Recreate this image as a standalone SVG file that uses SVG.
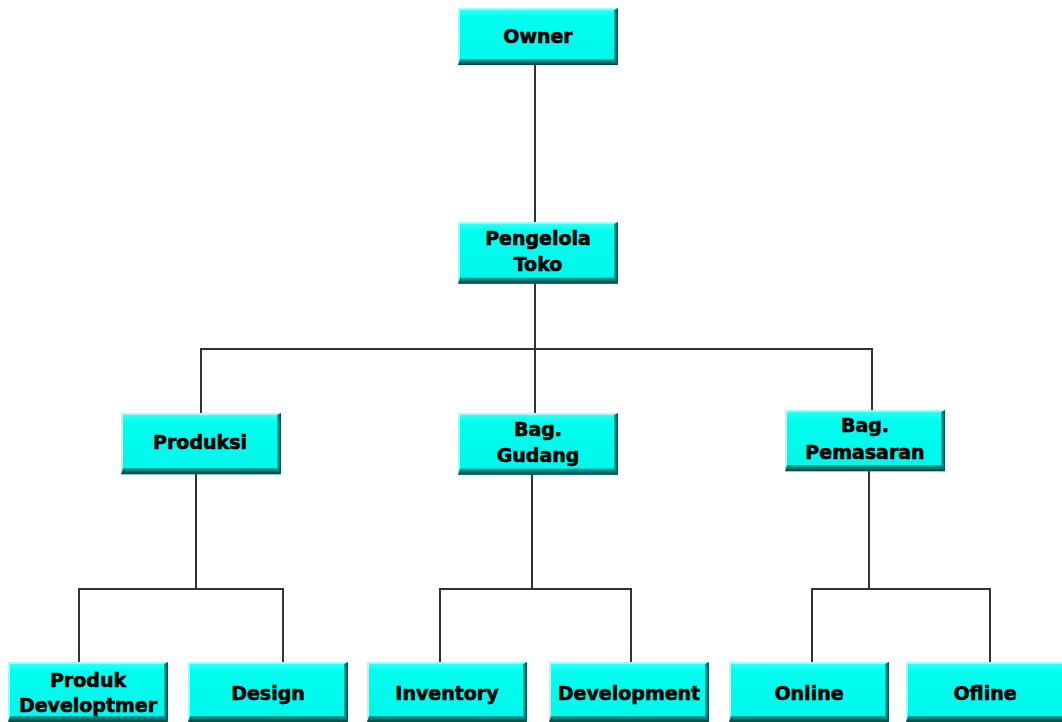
<svg xmlns="http://www.w3.org/2000/svg" xmlns:xlink="http://www.w3.org/1999/xlink" width="1062" height="722" viewBox="0 0 1062 722">
  <style>
    .lbl { font-family: "DejaVu Sans", "Liberation Sans", sans-serif; font-weight: bold; font-size: 19px; fill: #000; stroke: #000; stroke-width: 0.6; text-anchor: middle; }
    .wire { stroke: #333; stroke-width: 2; fill: none; stroke-linecap: square; }
  </style>
  <defs>
    <linearGradient id="face" x1="0" y1="0" x2="0" y2="1">
      <stop offset="0" stop-color="#40fff6"/>
      <stop offset="0.15" stop-color="#00fff0"/>
      <stop offset="1" stop-color="#00f6ea"/>
    </linearGradient>
    <linearGradient id="bot" x1="0" y1="0" x2="0" y2="1">
      <stop offset="0" stop-color="#00a8a0"/>
      <stop offset="1" stop-color="#003e3c"/>
    </linearGradient>
    <linearGradient id="side" x1="0" y1="0" x2="1" y2="0">
      <stop offset="0" stop-color="#00b0a8"/>
      <stop offset="1" stop-color="#004a48"/>
    </linearGradient>
    <!-- bevelled cyan block, 160 x 60 -->
    <g id="box">
      <rect width="160" height="60" fill="url(#face)"/>
      <rect width="160" height="2" fill="#9ffffb"/>
      <rect width="2" height="60" fill="#9ffffb"/>
      <polygon points="156,2 160,0 160,60 156,55" fill="url(#side)"/>
      <polygon points="2,54 156,54 160,60 0,60" fill="url(#bot)"/>
    </g>
  </defs>

  <rect width="1062" height="722" fill="#fff"/>

  <g id="connectors">
    <path class="wire" d="M535 65 V222"/>
    <path class="wire" d="M535 284 V413 M201 349 H872 M201 349 V413 M872 349 V410"/>
    <path class="wire" d="M196 474 V589 M79 589 H283 M79 589 V662 M283 589 V662"/>
    <path class="wire" d="M532 475 V589 M440 589 H631 M440 589 V662 M631 589 V662"/>
    <path class="wire" d="M869 471 V589 M812 589 H990 M812 589 V662 M990 589 V662"/>
  </g>

  <g id="owner">
    <use xlink:href="#box" transform="translate(458,8) scale(1,0.95)"/>
    <text class="lbl" x="538" y="43">Owner</text>
  </g>

  <g id="pengelola-toko">
    <use xlink:href="#box" transform="translate(458,222) scale(1,1.03)"/>
    <text class="lbl" x="538" y="245">Pengelola</text>
    <text class="lbl" x="538" y="271">Toko</text>
  </g>

  <g id="produksi">
    <use xlink:href="#box" transform="translate(121,413) scale(1,1.02)"/>
    <text class="lbl" x="200" y="449">Produksi</text>
  </g>

  <g id="bag-gudang">
    <use xlink:href="#box" transform="translate(458,413) scale(1,1.03)"/>
    <text class="lbl" x="538" y="436">Bag.</text>
    <text class="lbl" x="538" y="462">Gudang</text>
  </g>

  <g id="bag-pemasaran">
    <use xlink:href="#box" transform="translate(785,410) scale(1,1.02)"/>
    <text class="lbl" x="865" y="432">Bag.</text>
    <text class="lbl" x="865" y="459">Pemasaran</text>
  </g>

  <g id="produk-developtmer">
    <use xlink:href="#box" transform="translate(8,662)"/>
    <text class="lbl" x="88" y="687">Produk</text>
    <text class="lbl" x="88" y="712">Developtmer</text>
  </g>

  <g id="design">
    <use xlink:href="#box" transform="translate(188,662)"/>
    <text class="lbl" x="268" y="700">Design</text>
  </g>

  <g id="inventory">
    <use xlink:href="#box" transform="translate(367,662)"/>
    <text class="lbl" x="447" y="700">Inventory</text>
  </g>

  <g id="development">
    <use xlink:href="#box" transform="translate(549,662)"/>
    <text class="lbl" x="629" y="700">Development</text>
  </g>

  <g id="online">
    <use xlink:href="#box" transform="translate(729,662)"/>
    <text class="lbl" x="809" y="700">Online</text>
  </g>

  <g id="ofline">
    <use xlink:href="#box" transform="translate(906,662)"/>
    <text class="lbl" x="985" y="700">Ofline</text>
  </g>
</svg>
